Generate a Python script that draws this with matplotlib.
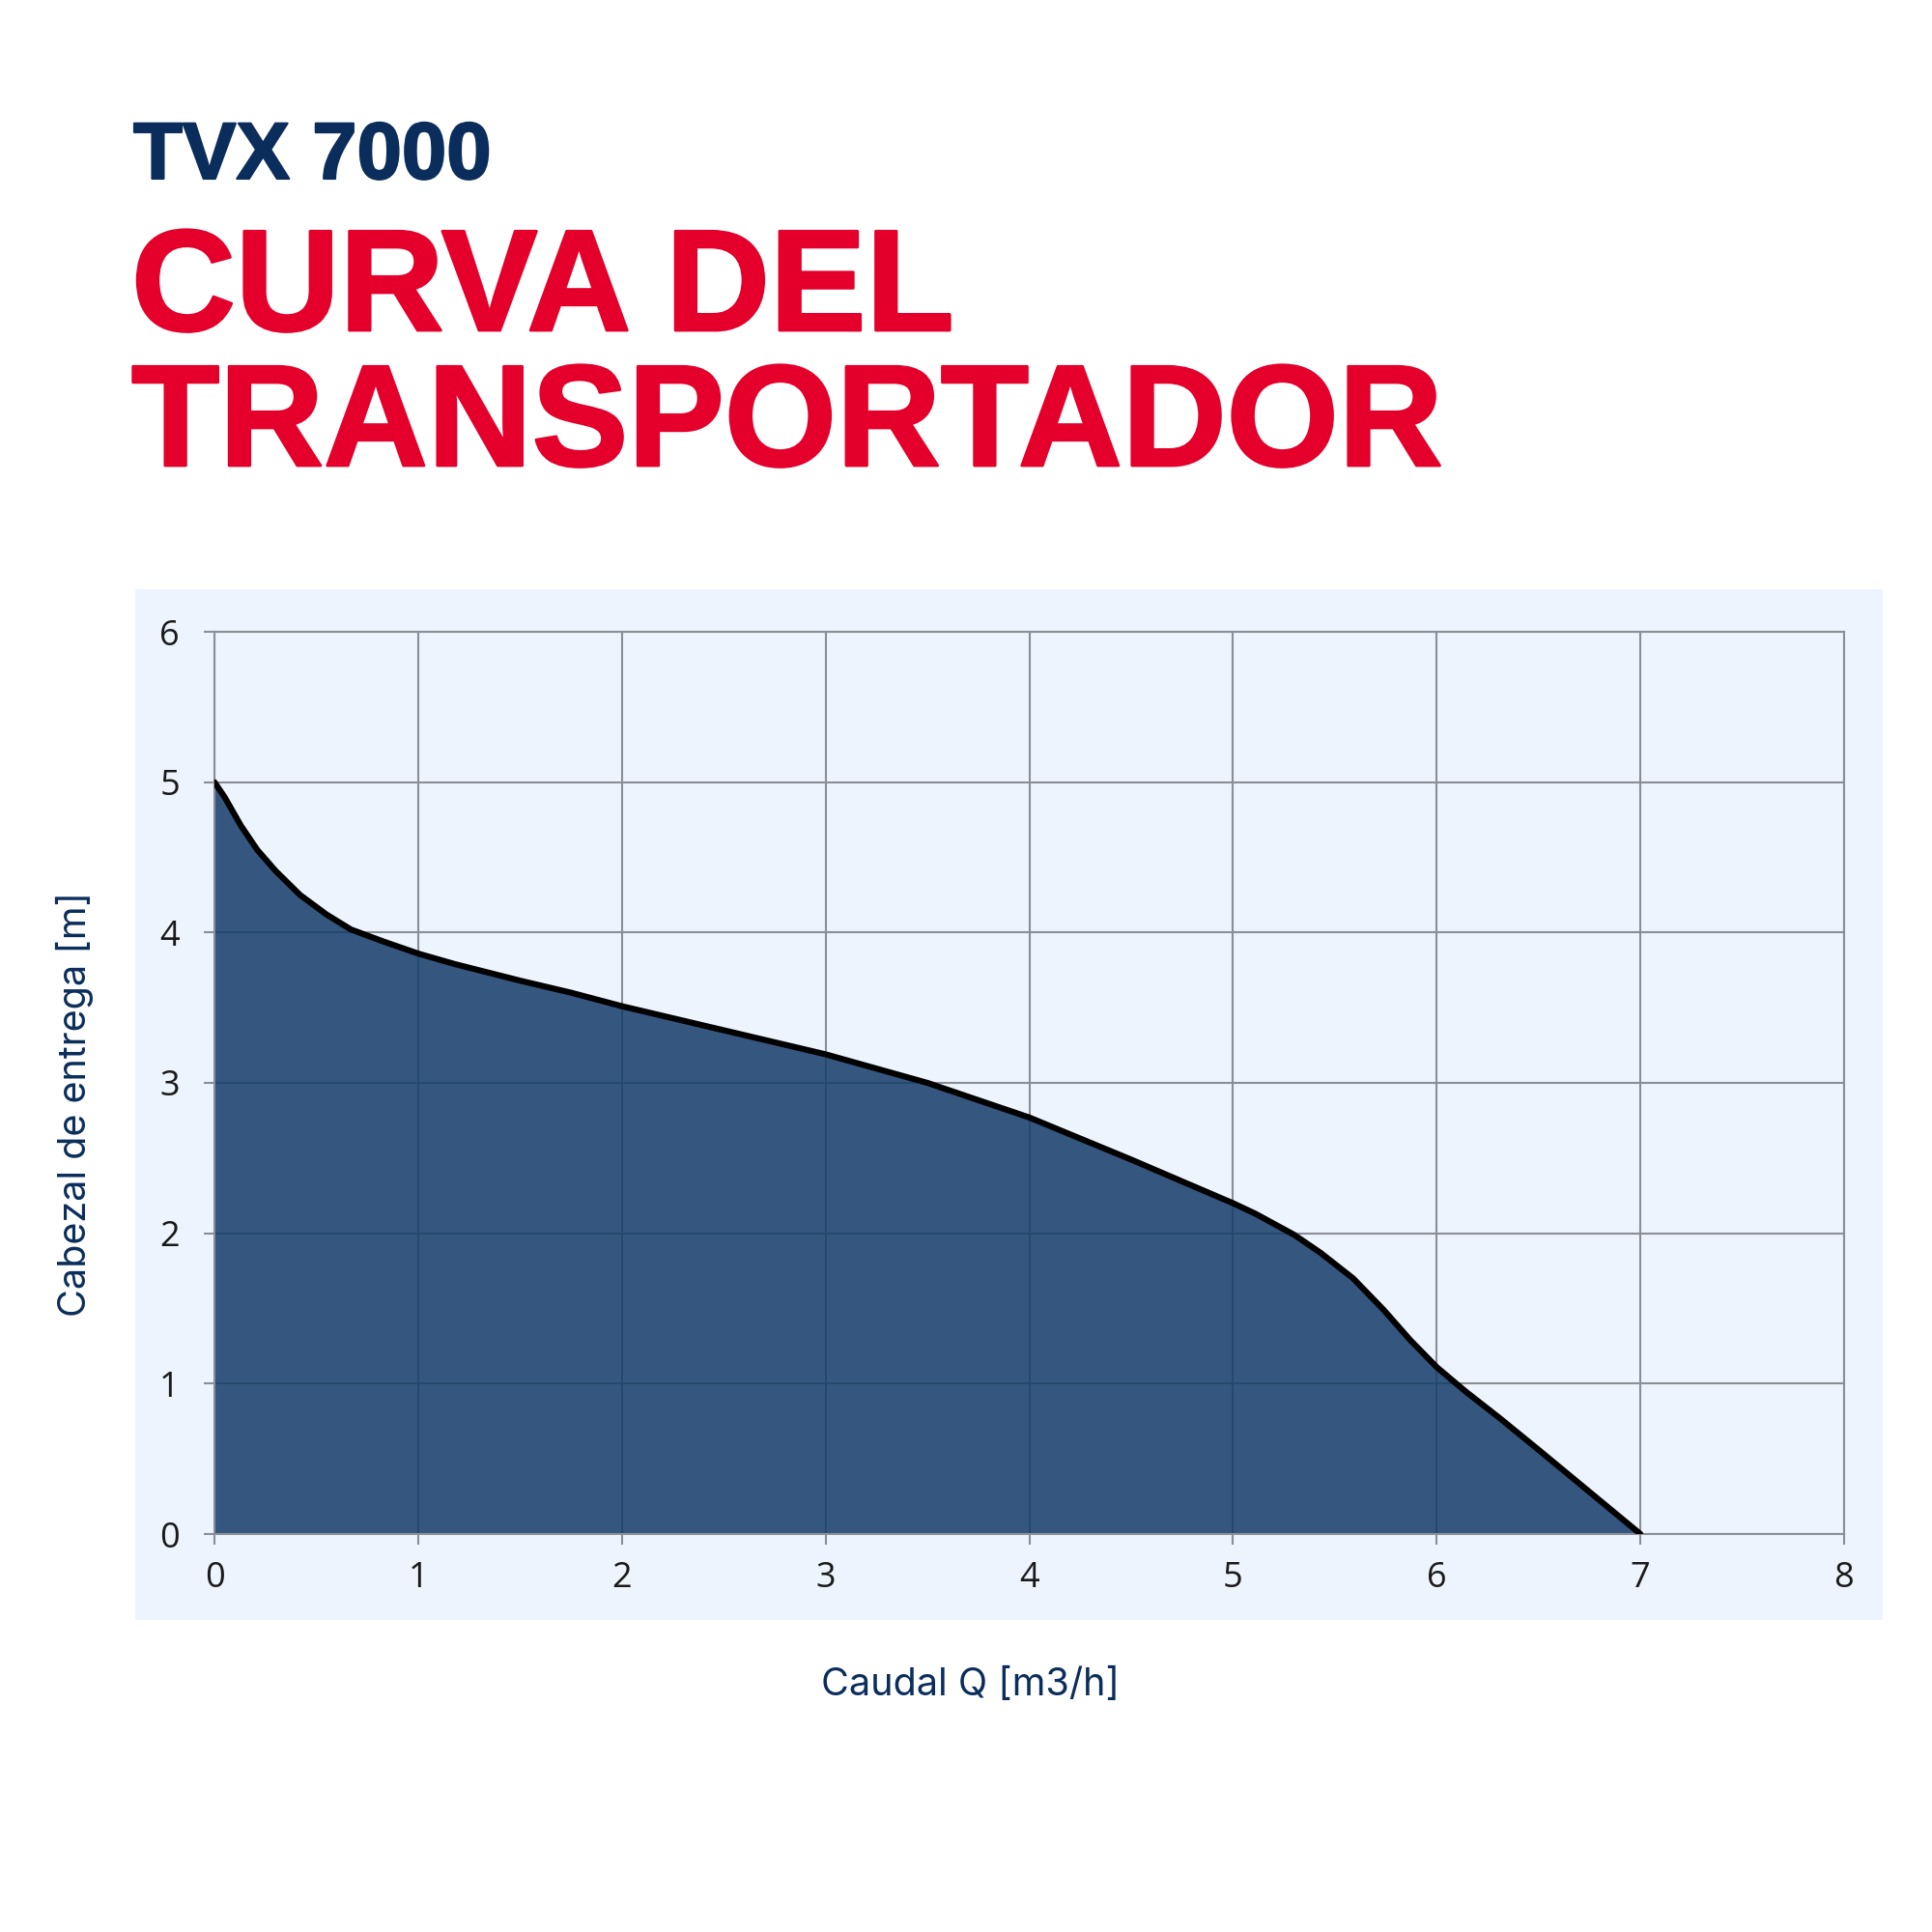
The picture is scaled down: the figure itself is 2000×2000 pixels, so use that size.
import matplotlib
matplotlib.use("Agg")
import matplotlib.pyplot as plt
import matplotlib.patheffects as pe

# pump curve
caudal = [0, 0.05, 0.13, 0.21, 0.3, 0.42, 0.55, 0.67, 0.83, 1.0, 1.18, 1.5, 1.75, 2.0, 2.5,
          3.0, 3.5, 4.0, 4.5, 5.0, 5.11, 5.3, 5.43, 5.59, 5.74, 5.87, 6.0, 6.14, 6.31,
          6.5, 6.75, 7.0]
altura = [5.0, 4.9, 4.71, 4.55, 4.41, 4.25, 4.12, 4.02, 3.94, 3.86, 3.79, 3.68, 3.6, 3.51, 3.35,
          3.19, 3.0, 2.77, 2.49, 2.2, 2.13, 1.99, 1.87, 1.70, 1.49, 1.29, 1.11, 0.95, 0.77,
          0.56, 0.28, 0.0]
x_ticks = [0, 1, 2, 3, 4, 5, 6, 7, 8]
y_ticks = [0, 1, 2, 3, 4, 5, 6]

NAVY = "#0B2D5B"
RED = "#E4002B"
PANEL = "#EEF4FD"
GRID = "#8A8E96"

fig = plt.figure(figsize=(20, 20), dpi=100)
fig.patch.set_facecolor("white")

# titles (a thin stroke makes Liberation look a bit heavier, like the original)
fig.text(0.069, 0.9075, "TVX 7000", color=NAVY, fontsize=60, fontweight="bold",
         family="Liberation Sans", va="baseline", ha="left",
         path_effects=[pe.withStroke(linewidth=1.5, foreground=NAVY)])
for txt, yy in [("CURVA DEL", 0.829), ("TRANSPORTADOR", 0.759)]:
    fig.text(0.068, yy, txt, color=RED, fontsize=107.5, fontweight="bold",
             family="Liberation Sans", va="baseline", ha="left",
             path_effects=[pe.withStroke(linewidth=2, foreground=RED)])

# light blue panel behind the plot
panel = fig.add_axes([0.070, 0.1615, 0.9045, 0.5335], zorder=0)
panel.set_facecolor(PANEL)
panel.set_xticks([])
panel.set_yticks([])
for s in panel.spines.values():
    s.set_visible(False)

ax = fig.add_axes([0.111, 0.206, 0.8435, 0.467], zorder=1)
ax.set_facecolor(PANEL)
ax.set_xlim(0, 8)
ax.set_ylim(0, 6)
ax.set_xticks(x_ticks)
ax.set_yticks(y_ticks)
ax.grid(True, color=GRID, linewidth=1.5, zorder=1)
ax.set_axisbelow(True)
for s in ax.spines.values():
    s.set_color(GRID)
    s.set_linewidth(1.5)

ax.fill_between(caudal, altura, 0, color="#143C69", alpha=0.85, linewidth=0, zorder=2)
ax.plot(caudal, altura, color="black", linewidth=4.5, zorder=3,
        solid_capstyle="round", solid_joinstyle="round")

ax.tick_params(axis="both", length=8, width=1.5, color=GRID, labelsize=26,
               labelcolor="#1a1a1a")
ax.tick_params(axis="x", pad=12)
ax.tick_params(axis="y", pad=18)
for lab in ax.get_xticklabels() + ax.get_yticklabels():
    lab.set_family("Open Sans")

fig.text(0.5025, 0.1275, "Caudal Q [m3/h]", color=NAVY, fontsize=28.5,
         family="Inter", ha="center", va="center")
fig.text(0.0385, 0.4285, "Cabezal de entrega [m]", color=NAVY, fontsize=28.5,
         family="Inter", ha="center", va="center", rotation=90)

fig.savefig("out.png", dpi=100, facecolor="white")
